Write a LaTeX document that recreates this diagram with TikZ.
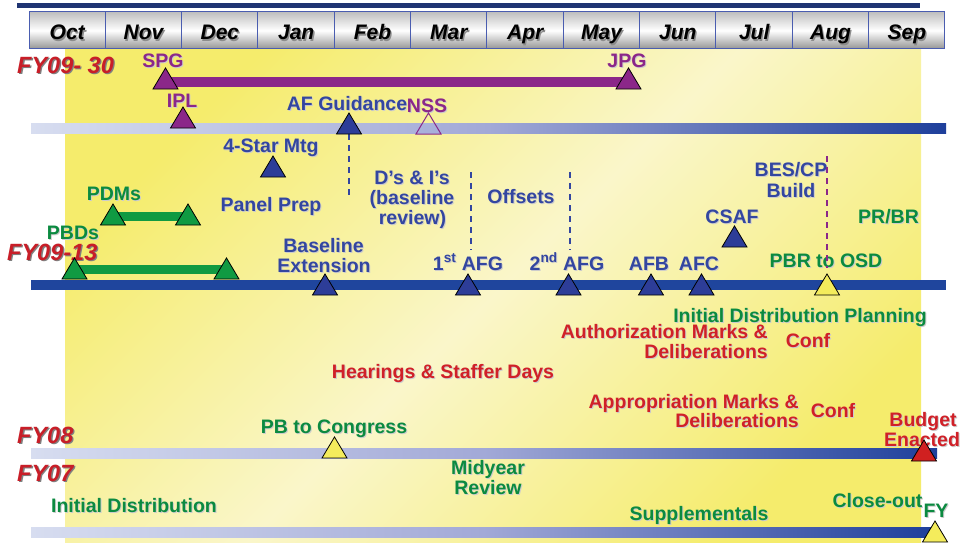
\documentclass[tikz,border=0pt]{standalone}
\usepackage{fontspec}
\setmainfont{Liberation Sans}
\definecolor{navy}{HTML}{1F3472}
\definecolor{cellblue}{HTML}{4A5DB0}
\definecolor{lblblue}{HTML}{3346A0}
\definecolor{triblue}{HTML}{2D3D98}
\definecolor{purp}{HTML}{8B2789}
\definecolor{grn}{HTML}{0B8A40}
\definecolor{trigrn}{HTML}{109A42}
\definecolor{barblue}{HTML}{1F459D}
\definecolor{redlbl}{HTML}{D02028}
\definecolor{fyred}{HTML}{C81E28}
\definecolor{triyel}{HTML}{F4EC5C}
\definecolor{trired}{HTML}{D02020}
\definecolor{bglite}{HTML}{D7DDF0}
\definecolor{bgmid}{HTML}{A2A9D7}
\definecolor{bgdark}{HTML}{1E3F9B}
\definecolor{yelA}{HTML}{F5EC6C}
\definecolor{yelB}{HTML}{FAF6CA}
\newcommand{\shd}[3]{\makebox[0pt][l]{\hspace{#1}\raisebox{-#1}{\textcolor{#2}{#3}}}#3}
\newcommand{\ls}[1]{\shd{1pt}{black!20}{#1}}
\newcommand{\ms}[1]{\shd{1.3pt}{black!45}{#1}}
\newcommand{\fs}[1]{\shd{1.3pt}{black!50}{#1}}
\tikzset{
  lbl/.style={font=\fontsize{19.5}{21}\selectfont\bfseries, inner sep=0pt, anchor=base},
  bluelbl/.style={lbl, text=lblblue},
  purplbl/.style={lbl, text=purp},
  grnlbl/.style={lbl, text=grn},
  redtxt/.style={lbl, text=redlbl},
  monthlbl/.style={font=\fontsize{21}{24}\selectfont\bfseries\itshape, inner sep=0pt, anchor=base},
  fylbl/.style={font=\fontsize{23.5}{26}\selectfont\bfseries\itshape, text=fyred, inner sep=0pt, anchor=base west},
  cell/.style={draw=cellblue, line width=1pt, top color=black!25, bottom color=black!42, middle color=white},
  gradbar/.style={left color=bglite, right color=bgdark, middle color=bgmid},
  dashblue/.style={draw=lblblue, line width=1.6pt, dash pattern=on 6pt off 5pt},
  dashpurp/.style={draw=purp, line width=1.4pt, dash pattern=on 6pt off 5pt},
  pics/mark/.style={code={\draw[line width=0.8pt, fill=#1] (-12.5,0) -- (0,-21) -- (12.5,0) -- cycle;}},
  pics/hollowmark/.style={code={\draw[line width=1pt, draw=#1] (-12.5,0) -- (0,-21) -- (12.5,0) -- cycle;}}
}
\begin{document}
\begin{tikzpicture}[x=1pt,y=-1pt]
\useasboundingbox (0,0) rectangle (964,543);
\fill[white] (0,0) rectangle (964,543);
% yellow background
\shade[top color=yelA, bottom color=yelA, middle color=yelB, shading angle=45] (65,49) rectangle (921,543);
% top navy bar
\fill[navy] (17,3) rectangle (920,8.3);
% header months
\foreach \m [count=\i from 0] in {Oct,Nov,Dec,Jan,Feb,Mar,Apr,May,Jun,Jul,Aug,Sep}{
  \draw[cell] ({29+\i*76.33},12) rectangle ++(76.33,37);
  \node[monthlbl] (m\i) at ({29+\i*76.33+38.2},40) {\ms{\m}};
}
% FY labels
\node[fylbl] (fy0930) at (17,73.5) {\fs{FY09- 30}};
\node[fylbl] (fy0913) at (7,260) {\fs{FY09-13}};
\node[fylbl] (fy08) at (17,443) {\fs{FY08}};
\node[fylbl] (fy07) at (17,481) {\fs{FY07}};
% triangle positions (bottom centre)
\coordinate (tSPG) at (165.5,89);
\coordinate (tJPG) at (628.5,89);
\coordinate (tIPL) at (183,128);
\coordinate (tAFG) at (349,134);
\coordinate (tNSS) at (428.5,134);
\coordinate (t4S) at (273,177);
\coordinate (tPDMa) at (113,225);
\coordinate (tPDMb) at (188,225);
\coordinate (tPBDa) at (74.5,279);
\coordinate (tPBDb) at (226.5,279);
\coordinate (tBE) at (325,295);
\coordinate (tAFGa) at (468,295);
\coordinate (tAFGb) at (568.5,295);
\coordinate (tAFB) at (651,295);
\coordinate (tAFC) at (701.5,295);
\coordinate (tCSAF) at (734.5,247);
\coordinate (tPBR) at (827,295);
\coordinate (tPBC) at (334.5,458);
\coordinate (tBud) at (924,461);
\coordinate (tFY) at (935,542);
% timeline bars
\shade[gradbar] (31,123) rectangle (946,133);
\fill[barblue] (31,280) rectangle (946,289.5);
\shade[gradbar] (31,448) rectangle (937,458);
\shade[gradbar] (31,527) rectangle (935,537);
\draw[purp, line width=9.5pt] ([yshift=7pt]tSPG) -- ([yshift=7pt]tJPG);
\draw[trigrn, line width=9pt] ([yshift=8.5pt]tPDMa) -- ([yshift=8.5pt]tPDMb);
\draw[trigrn, line width=9pt] ([yshift=9.5pt]tPBDa) -- ([yshift=9.5pt]tPBDb);
% labels
\node[purplbl] (spg) at (163,68) {\ls{SPG}};
\node[purplbl] (jpg) at (627,68) {\ls{JPG}};
\node[purplbl] (ipl) at (182,107) {\ls{IPL}};
\node[bluelbl] (afguid) at (347,110.5) {\ls{AF Guidance}};
\node[purplbl] (nss) at (427,113) {\ls{NSS}};
\node[bluelbl] (star) at (271,152) {\ls{4-Star Mtg}};
\node[grnlbl] (pdms) at (114,200) {\ls{PDMs}};
\node[bluelbl] (panel) at (271,211) {\ls{Panel Prep}};
\node[grnlbl] (pbds) at (73,239) {\ls{PBDs}};
\node[bluelbl] (base1) at (323.5,252) {\ls{Baseline}};
\node[bluelbl] (base2) at (324,272) {\ls{Extension}};
\node[bluelbl] (dis1) at (412,184) {\ls{D’s \& I’s}};
\node[bluelbl] (dis2) at (412,204) {\ls{(baseline}};
\node[bluelbl] (dis3) at (412.5,224.5) {\ls{review)}};
\node[bluelbl] (afg1) at (468,270) {\ls{1\textsuperscript{st} AFG}};
\node[bluelbl] (offs) at (521,203) {\ls{Offsets}};
\node[bluelbl] (afg2) at (567,270) {\ls{2\textsuperscript{nd} AFG}};
\node[bluelbl] (afb) at (649,270) {\ls{AFB}};
\node[bluelbl] (afc) at (699,270) {\ls{AFC}};
\node[bluelbl] (csaf) at (732,223) {\ls{CSAF}};
\node[bluelbl] (bes1) at (791,176) {\ls{BES/CP}};
\node[bluelbl] (bes2) at (791,197) {\ls{Build}};
\node[grnlbl] (prbr) at (888.5,223) {\ls{PR/BR}};
\node[grnlbl] (pbr) at (826,267) {\ls{PBR to OSD}};
\node[grnlbl] (idp) at (800,322) {\ls{Initial Distribution Planning}};
\node[redtxt, anchor=base east] (auth1) at (768,338) {\ls{Authorization Marks \&}};
\node[redtxt, anchor=base east] (auth2) at (768,358) {\ls{Deliberations}};
\node[redtxt] (conf1) at (808,347) {\ls{Conf}};
\node[redtxt] (hear) at (443,378) {\ls{Hearings \& Staffer Days}};
\node[redtxt, anchor=base east] (app1) at (799,408) {\ls{Appropriation Marks \&}};
\node[redtxt, anchor=base east] (app2) at (799,427) {\ls{Deliberations}};
\node[redtxt] (conf2) at (833,417) {\ls{Conf}};
\node[redtxt] (bud1) at (923,426) {\ls{Budget}};
\node[redtxt] (bud2) at (922,446) {\ls{Enacted}};
\node[grnlbl] (pbc) at (334,433) {\ls{PB to Congress}};
\node[grnlbl] (mid1) at (488,474) {\ls{Midyear}};
\node[grnlbl] (mid2) at (488,494) {\ls{Review}};
\node[grnlbl] (initd) at (134,512) {\ls{Initial Distribution}};
\node[grnlbl] (close) at (877.5,507) {\ls{Close-out}};
\node[grnlbl] (fyend) at (936,517) {\ls{FY}};
\node[grnlbl] (supp) at (699,520) {\ls{Supplementals}};
% dashed guide lines
\coordinate (dA) at (349,198);
\coordinate (dBa) at (471,172);
\coordinate (dBb) at (471,250);
\coordinate (dCa) at (570,172);
\coordinate (dCb) at (570,250);
\coordinate (dDa) at (827,156);
\coordinate (dDb) at (827,268);
\draw[dashblue] (tAFG) -- (dA);
\draw[dashblue] (dBa) -- (dBb);
\draw[dashblue] (dCa) -- (dCb);
\draw[dashpurp] (dDa) -- (dDb);
% triangles
\pic at (tSPG) {mark=purp};
\pic at (tJPG) {mark=purp};
\pic at (tIPL) {mark=purp};
\pic at (tAFG) {mark=triblue};
\pic at (tNSS) {hollowmark=purp};
\pic at (t4S) {mark=triblue};
\pic at (tPDMa) {mark=trigrn};
\pic at (tPDMb) {mark=trigrn};
\pic at (tPBDa) {mark=trigrn};
\pic at (tPBDb) {mark=trigrn};
\pic at (tBE) {mark=triblue};
\pic at (tAFGa) {mark=triblue};
\pic at (tAFGb) {mark=triblue};
\pic at (tAFB) {mark=triblue};
\pic at (tAFC) {mark=triblue};
\pic at (tCSAF) {mark=triblue};
\pic at (tPBR) {mark=triyel};
\pic at (tPBC) {mark=triyel};
\pic at (tBud) {mark=trired};
\pic at (tFY) {mark=triyel};
\end{tikzpicture}
\end{document}
